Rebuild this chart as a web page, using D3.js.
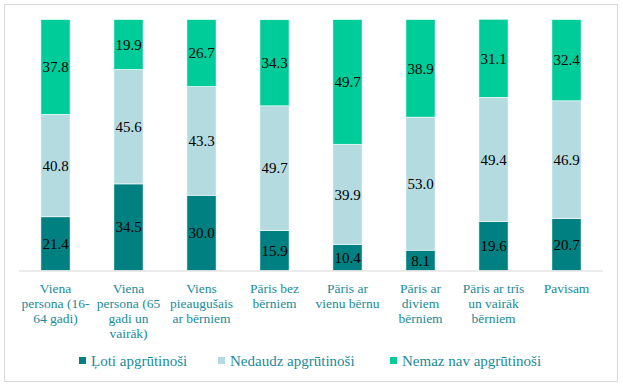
<!DOCTYPE html>
<html>
<head>
<meta charset="utf-8">
<script src="https://cdn.jsdelivr.net/npm/d3@7"></script>
<style>
  body { margin: 0; background: #fff; }
  svg { display: block; }
</style>
</head>
<body>
<script>
// category labels, already split into lines as in the original
var categories = [
    ["Viena", "persona (16-", "64 gadi)"],
    ["Viena", "persona (65", "gadi un", "vairāk)"],
    ["Viens", "pieaugušais", "ar bērniem"],
    ["Pāris bez", "bērniem"],
    ["Pāris ar", "vienu bērnu"],
    ["Pāris ar", "diviem", "bērniem"],
    ["Pāris ar trīs", "un vairāk", "bērniem"],
    ["Pavisam"]
];
var seriesNames = ["Ļoti apgrūtinoši", "Nedaudz apgrūtinoši", "Nemaz nav apgrūtinoši"];
var veryHeavy = [21.4, 34.5, 30.0, 15.9, 10.4, 8.1, 19.6, 20.7];
var slightly = [40.8, 45.6, 43.3, 49.7, 39.9, 53.0, 49.4, 46.9];
var notAtAll = [37.8, 19.9, 26.7, 34.3, 49.7, 38.9, 31.1, 32.4];
var colors = ["#008080", "#b4dbe0", "#00cc99"];

var width = 623, height = 389;
var margin = {top: 19.5, left: 19, right: 20, bottom: 118.5};
var textColor = "#1a8a9b";
var serif = "'Liberation Serif', serif";

var svg = d3.select("body").append("svg")
    .attr("width", width)
    .attr("height", height);

// outer frame
svg.append("rect")
    .attr("x", 4.5).attr("y", 4.5)
    .attr("width", 613).attr("height", 377)
    .attr("fill", "#fff")
    .attr("stroke", "#d9d9d9");

var rows = categories.map(function (c, i) {
    return {idx: i, v0: veryHeavy[i], v1: slightly[i], v2: notAtAll[i]};
});

var x = d3.scaleBand()
    .domain(d3.range(categories.length))
    .range([margin.left, width - margin.right])
    .paddingInner(0.6)
    .paddingOuter(0.3);

var y = d3.scaleLinear()
    .domain([0, 100])
    .range([height - margin.bottom, margin.top]);

var stack = d3.stack().keys(["v0", "v1", "v2"]);
var layers = stack(rows);

var g = svg.append("g");

var layer = g.selectAll(".layer")
    .data(layers)
    .enter().append("g")
    .attr("class", "layer")
    .attr("fill", function (d, i) { return colors[i]; });

layer.selectAll("rect")
    .data(function (d) { return d; })
    .enter().append("rect")
    .attr("x", function (d) { return x(d.data.idx); })
    .attr("width", x.bandwidth())
    .attr("y", function (d) { return y(d[1]); })
    .attr("height", function (d) { return y(d[0]) - y(d[1]); })
    .attr("stroke", "#fff")
    .attr("stroke-width", 0.6);

// value labels
layer.selectAll("text")
    .data(function (d) { return d; })
    .enter().append("text")
    .attr("x", function (d) { return x(d.data.idx) + x.bandwidth() / 2; })
    .attr("y", function (d) { return (y(d[0]) + y(d[1])) / 2; })
    .attr("dy", ".35em")
    .attr("text-anchor", "middle")
    .style("font-family", serif)
    .style("font-size", "15px")
    .attr("fill", "#000")
    .text(function (d) { return (d[1] - d[0]).toFixed(1); });

// baseline
g.append("line")
    .attr("x1", margin.left).attr("x2", width - margin.right)
    .attr("y1", y(0) + 0.5).attr("y2", y(0) + 0.5)
    .attr("stroke", "#d9d9d9")
    .attr("stroke-width", 1);

// category labels
var catLabel = g.selectAll(".cat")
    .data(categories)
    .enter().append("text")
    .attr("class", "cat")
    .attr("text-anchor", "middle")
    .style("font-family", serif)
    .style("font-size", "13.5px")
    .attr("fill", textColor)
    .attr("transform", function (d, i) {
        return "translate(" + (x(i) + x.bandwidth() / 2) + "," + (y(0) + 22) + ")";
    });

catLabel.selectAll("tspan")
    .data(function (d) { return d; })
    .enter().append("tspan")
    .attr("x", 0)
    .attr("y", function (d, i) { return i * 15; })
    .text(function (d) { return d; });

// legend
var legendX = [79, 218, 390];
var legend = svg.selectAll(".legend")
    .data(seriesNames)
    .enter().append("g")
    .attr("class", "legend")
    .attr("transform", function (d, i) { return "translate(" + legendX[i] + ",357)"; });

legend.append("rect")
    .attr("width", 7)
    .attr("height", 7)
    .attr("fill", function (d, i) { return colors[i]; });

legend.append("text")
    .attr("x", 12)
    .attr("y", 4)
    .attr("dy", ".35em")
    .style("font-family", serif)
    .style("font-size", "15px")
    .attr("fill", textColor)
    .text(function (d) { return d; });
</script>
</body>
</html>
